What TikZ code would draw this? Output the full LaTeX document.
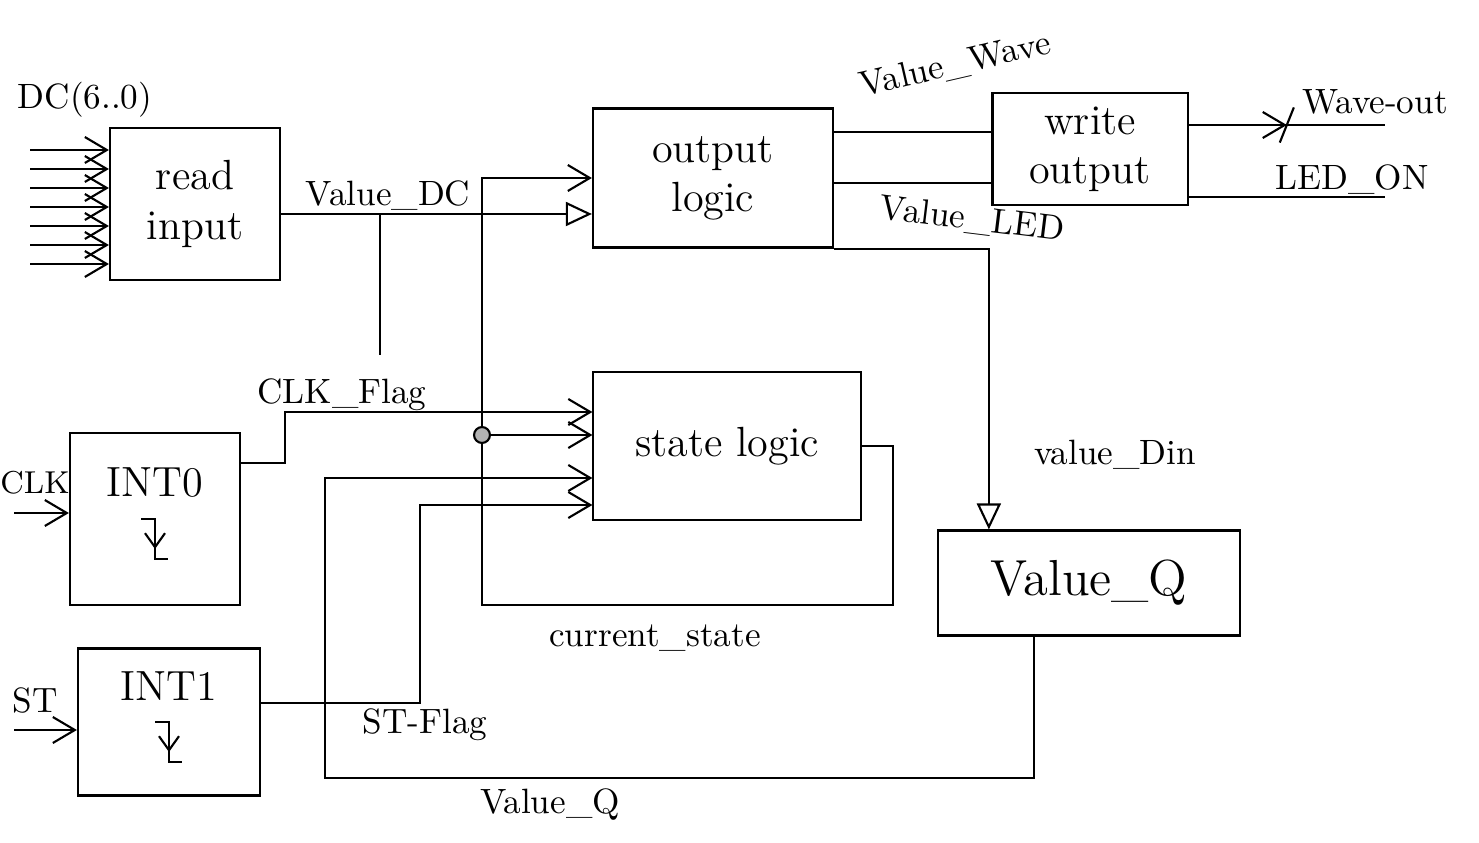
\documentclass[tikz,border=0pt]{standalone}
\usetikzlibrary{arrows.meta,calc,decorations.markings}

\begin{document}
\begin{tikzpicture}[x=0.01cm,y=-0.01cm,font=\normalsize,semithick,
  blk/.style={draw,align=center,inner sep=2pt,font=\large},
  barb/.style={-{Straight Barb[length=2.2mm,width=2.6mm]}},
  tri/.style={-{Triangle[open,length=2.6mm,width=2.4mm]}}]
\useasboundingbox (0,0) rectangle (1479,843);
% blocks
\node[blk,minimum width=1.70cm,minimum height=1.52cm] (readin) at (195,204) {read\\input};
\node[blk,minimum width=2.40cm,minimum height=1.39cm] (outlogic) at (713,178) {output\\logic};
\node[blk,minimum width=1.95cm,minimum height=1.12cm] (writeout) at (1090,149) {write\\output};
\node[blk,minimum width=2.67cm,minimum height=1.48cm] (statelogic) at (727,446) {state logic};
\node[blk,minimum width=3.02cm,minimum height=1.05cm,font=\Large] (valq) at (1089,583) {Value\_Q};
\node[blk,minimum width=1.70cm,minimum height=1.72cm] (int0) at (155,519) {};
\node[blk,minimum width=1.82cm,minimum height=1.47cm] (int1) at (169,722) {};
\foreach \n/\lab in {int0/INT0,int1/INT1}{
  \node[font=\large] (lbl\n) at ($(\n)+(0,-36)$) {\lab};
  \draw (\n)++(-14,0) -- ++(14,0) coordinate (e\n) -- ++(0,40) -- ++(13,0);
  \draw[-{Straight Barb[length=1.4mm,width=2mm]}] (e\n) -- ++(0,30);
}
% inputs
\node (lbldc) at (85,100) {DC(6..0)};
\foreach \i in {0,...,6}{
  \coordinate (dc\i) at (30,{150+\i*19});
  \draw[barb] (dc\i) -- (dc\i -| readin.west);
}
\node[font=\small] (lblclk) at (35,483) {CLK};
\coordinate (clkin) at (14,513);
\draw[barb] (clkin) -- (clkin -| int0.west);
\node (lblst) at (35,700) {ST};
\coordinate (stin) at (14,730);
\draw[barb] (stin) -- (stin -| int1.west);
% value_DC
\coordinate (jdc) at (380,214);
\coordinate (jdcend) at (380,355);
\draw[tri] (readin.east |- jdc) -- (jdc -| outlogic.west);
\draw (jdc) -- (jdcend);
\node (lblvdc) at (388,196) {Value\_DC};
% current_state loop
\coordinate (csturn) at (893,605);
\coordinate (jcs) at (482,435);
\draw[barb] (statelogic.east) -| (csturn) -| (jcs) |- (outlogic.west);
\draw[barb] (jcs) -- (jcs -| statelogic.west);
\node[circle,draw,fill=gray!60,inner sep=1.6pt] (jdot) at (jcs) {};
\node (lblcs) at (655,638) {current\_state};
% flags
\coordinate (clkbend) at (285,412);
\draw[barb] ($(int0.east)+(0,-56)$) -| (clkbend) -- (clkbend -| statelogic.west);
\node (lblclkf) at (342,395) {CLK\_Flag};
\coordinate (stbend) at (420,505);
\draw[barb] ($(int1.east)+(0,-19)$) -| (stbend) -- (stbend -| statelogic.west);
\node (lblstf) at (425,725) {ST-Flag};
% value_Q feedback
\coordinate (vqbend) at (325,778);
\draw[barb] ($(valq.south)+(-55,0)$) |- (vqbend) |- ($(statelogic.west)+(0,32)$);
\node (lblvq) at (550,805) {Value\_Q};
% outputs
\coordinate (vw) at (913,132);
\coordinate (vl) at (913,183);
\draw (outlogic.east |- vw) -- (writeout.west |- vw);
\draw (outlogic.east |- vl) -- (writeout.west |- vl);
\node[rotate=13] (lblvw) at (955,65) {Value\_Wave};
\node[rotate=-7] (lblvl) at (972,220) {Value\_LED};
\coordinate (wo) at (1385,125);
\draw[postaction={decorate},decoration={markings,mark=at position 0.5 with {\arrow{Straight Barb[length=2.2mm,width=2.6mm]}\draw (-2pt,-5pt) -- (2pt,5pt);}}] (writeout.east |- wo) -- (wo);
\node (lblwo) at (1375,102) {Wave-out};
\coordinate (led) at (1385,197);
\draw (writeout.east |- led) -- (led);
\node (lblled) at (1352,180) {LED\_ON};
\draw[tri] (outlogic.south east) -| ($(valq.north west)+(52,0)$);
\node (lbldin) at (1115,455) {value\_Din};
\end{tikzpicture}
\end{document}
